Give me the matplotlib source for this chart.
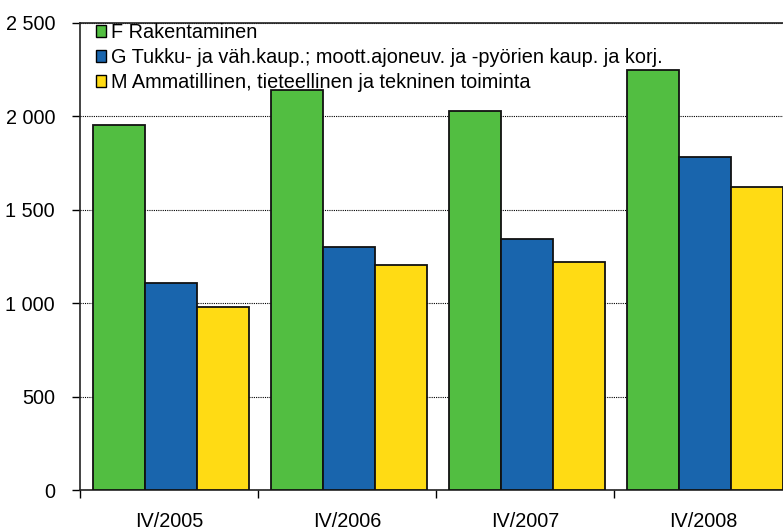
import matplotlib
matplotlib.use("Agg")
import matplotlib.pyplot as plt
from matplotlib.patches import Patch
from matplotlib.ticker import FuncFormatter
import numpy as np

categories = ["IV/2005", "IV/2006", "IV/2007", "IV/2008"]
series_names = [
    "F Rakentaminen",
    "G Tukku- ja väh.kaup.; moott.ajoneuv. ja -pyörien kaup. ja korj.",
    "M Ammatillinen, tieteellinen ja tekninen toiminta",
]
f_values = [1955, 2143, 2030, 2250]
g_values = [1110, 1300, 1345, 1780]
m_values = [980, 1206, 1220, 1620]
colors = ["#52BE41", "#1965AD", "#FFDB14"]

plt.rcParams['font.family'] = ['Liberation Sans', 'DejaVu Sans']
FS = 14.3

fig = plt.figure(figsize=(7.83, 5.32), dpi=100)
W, H = 783, 532
left, right, bottom, top = 80, 792, 490, 23
ax = fig.add_axes([left / W, 1 - bottom / H, (right - left) / W, (bottom - top) / H])

x = np.arange(len(categories)) + 0.5
bw = 0.292
for i, (vals, c) in enumerate(zip([f_values, g_values, m_values], colors)):
    ax.bar(x + (i - 1) * bw + 0.01, vals, width=bw, color=c, edgecolor="#111111", linewidth=1.3, zorder=3)

ax.set_xlim(0, len(categories))
ax.set_ylim(0, 2500)
ax.set_yticks([0, 500, 1000, 1500, 2000, 2500])
ax.yaxis.set_major_formatter(FuncFormatter(lambda v, p: f"{int(v):,}".replace(",", " ")))
ax.tick_params(axis="y", direction="out", length=6, width=1, labelsize=FS, pad=12)

ax.set_xticks(np.arange(len(categories) + 1))
ax.set_xticklabels([])
ax.set_xticks(x, minor=True)
ax.set_xticklabels(categories, minor=True)
ax.tick_params(axis="x", which="major", direction="out", length=6, width=1)
ax.tick_params(axis="x", which="minor", length=0, labelsize=FS, pad=16)

ax.grid(axis="y", linestyle=(0, (1, 1)), color="black", linewidth=0.8, zorder=0)
ax.set_axisbelow(True)
for s in ["left", "bottom", "top"]:
    ax.spines[s].set_linewidth(1.2)
    ax.spines[s].set_color("#222222")
ax.spines["right"].set_visible(False)

handles = [Patch(facecolor=c, edgecolor="black", linewidth=1.0) for c in colors]
leg = ax.legend(handles, series_names, loc="upper left", bbox_to_anchor=(96 / W, 1 - 23 / H),
                bbox_transform=fig.transFigure, frameon=False, fontsize=FS,
                handlelength=0.5, handleheight=0.5, handletextpad=0.25, labelspacing=0.3,
                borderpad=0, borderaxespad=0)
leg.set_zorder(5)

fig.savefig("out.png", dpi=100)
